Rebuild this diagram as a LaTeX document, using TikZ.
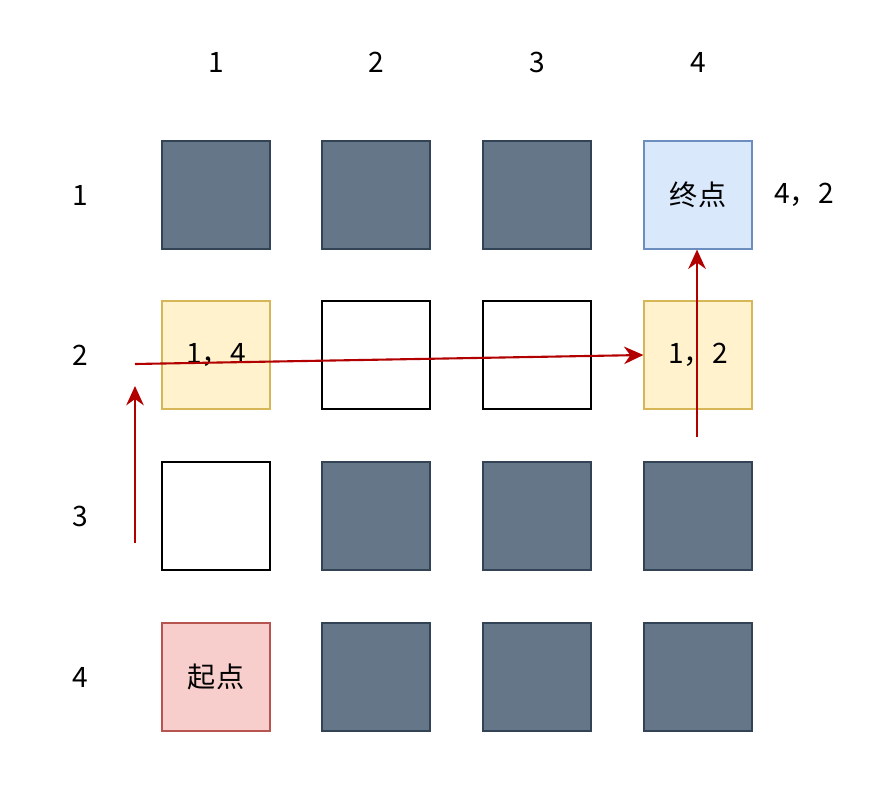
\documentclass[tikz,border=0pt]{standalone}
\usepackage{fontspec}
\setmainfont{Noto Sans CJK SC}
\usetikzlibrary{arrows.meta}
\definecolor{wallfill}{HTML}{647687}
\definecolor{walldraw}{HTML}{314354}
\definecolor{openfill}{HTML}{FFF2CC}
\definecolor{opendraw}{HTML}{D6B656}
\definecolor{goalfill}{HTML}{DAE8FC}
\definecolor{goaldraw}{HTML}{6C8EBF}
\definecolor{startfill}{HTML}{F8CECC}
\definecolor{startdraw}{HTML}{B85450}
\definecolor{pathred}{HTML}{B20000}
\tikzset{
  cell/.style={draw, line width=0.7pt, minimum size=2.16cm, inner sep=0pt, font=\fontsize{16}{19}\selectfont},
  wall/.style={cell, fill=wallfill, draw=walldraw},
  free/.style={cell, fill=white, draw=black},
  open/.style={cell, fill=openfill, draw=opendraw},
  goal/.style={cell, fill=goalfill, draw=goaldraw},
  start/.style={cell, fill=startfill, draw=startdraw},
  axis/.style={font=\fontsize{16}{19}\selectfont},
  route/.style={-{Stealth[length=11pt,width=10pt]}, line width=1.2pt, pathred}
}
\begin{document}
\begin{tikzpicture}[x=0.02cm, y=-0.02cm]
		\useasboundingbox (0,0) rectangle (886,787);

		% Column and row labels
		\foreach \c/\x in {1/216, 2/376, 3/537, 4/698} \node[axis] (col\c) at (\x, 62) {\c};
		\foreach \r/\y in {1/195, 2/355, 3/516, 4/677} \node[axis] (row\r) at (80, \y) {\r};

		% Walls
		\foreach \r/\y in {1/195} \foreach \c/\x in {1/216, 2/376, 3/537} \node[wall] (c\r\c) at (\x, \y) {};
		\foreach \r/\y in {3/516, 4/677} \foreach \c/\x in {2/376, 3/537, 4/698} \node[wall] (c\r\c) at (\x, \y) {};

		% Free cells
		\node[free] (c22) at (376, 355) {};
		\node[free] (c23) at (537, 355) {};
		\node[free] (c31) at (216, 516) {};

		% Turning points, start and goal
		\node[open] (c21) at (216, 355) {1，4};
		\node[open] (c24) at (698, 355) {1，2};
		\node[goal] (c14) at (698, 195) {终点};
		\node[start] (c41) at (216, 677) {起点};
		\node[axis] (goalpos) at (804, 195) {4，2};

		% Path
		\coordinate (p0) at (135, 543);
		\coordinate (p1) at (135, 386);
		\coordinate (p2) at (135, 364);
		\coordinate (p3) at (697, 437);
		\draw[route] (p0) -- (p1);
		\draw[route] (p2) -- (c24.west);
		\draw[route] (p3) -- (c14.south -| p3);
	\end{tikzpicture}
\end{document}
